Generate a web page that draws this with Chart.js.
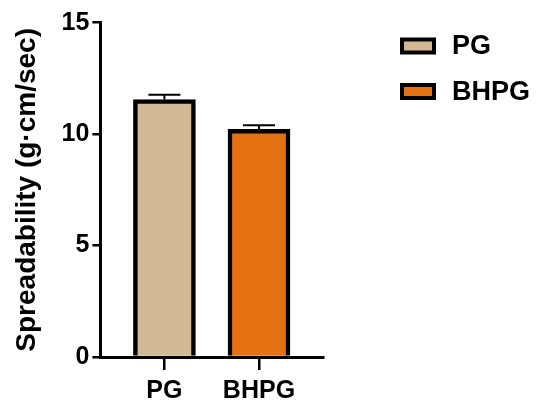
<!DOCTYPE html>
<html>
<head>
<meta charset="utf-8">
<script src="https://cdn.jsdelivr.net/npm/chart.js@4"></script>
<style>
  html, body { margin: 0; padding: 0; background: #fff; }
  #wrap { width: 537px; height: 402px; }
</style>
</head>
<body>
<div id="wrap"><canvas id="spreadChart"></canvas></div>
<script>
// Data
const categories = ['PG', 'BHPG'];
const spreadability = [11.55, 10.22];
const spreadabilityErr = [0.22, 0.18];
const barColors = ['#d3b895', '#e57212'];
const yTicks = [0, 5, 10, 15];

const FONT = "'Liberation Sans', Arial, Helvetica, sans-serif";

// Upper error bars, GraphPad style
const errorBars = {
    id: 'errorBars',
    afterDatasetsDraw(chart) {
        const { ctx, scales } = chart;
        const meta = chart.getDatasetMeta(0);
        ctx.save();
        ctx.strokeStyle = '#000';
        ctx.lineWidth = 2;
        meta.data.forEach((bar, i) => {
            const yTop = scales.y.getPixelForValue(spreadability[i] + spreadabilityErr[i]);
            ctx.beginPath();
            ctx.moveTo(bar.x, bar.y);
            ctx.lineTo(bar.x, yTop);
            ctx.moveTo(bar.x - 16, yTop);
            ctx.lineTo(bar.x + 16, yTop);
            ctx.stroke();
        });
        ctx.restore();
    }
};

// Legend on the right, one entry per category
const sideLegend = {
    id: 'sideLegend',
    afterDraw(chart) {
        const { ctx, chartArea } = chart;
        const x0 = chartArea.right + 77;
        ctx.save();
        ctx.font = "bold 27px " + FONT;
        ctx.textBaseline = 'middle';
        ctx.textAlign = 'left';
        categories.forEach((name, i) => {
            const cy = 46 + i * 45.5;
            ctx.fillStyle = barColors[i];
            ctx.fillRect(x0 + 2, cy - 6.5, 32, 13);
            ctx.strokeStyle = '#000';
            ctx.lineWidth = 4;
            ctx.strokeRect(x0 + 2, cy - 6.5, 32, 13);
            ctx.fillStyle = '#000';
            ctx.fillText(name, x0 + 52, cy + 1);
        });
        ctx.restore();
    }
};

const ctx = document.getElementById('spreadChart').getContext('2d');
const chart = new Chart(ctx, {
    type: 'bar',
    data: {
        datasets: [{
            label: 'Spreadability',
            data: categories.map((c, i) => ({ x: i, y: spreadability[i] })),
            backgroundColor: barColors,
            borderColor: '#000',
            borderWidth: 4.5,
            borderSkipped: 'start',
            barThickness: 62
        }]
    },
    options: {
        responsive: true,
        maintainAspectRatio: false,
        animation: false,
        devicePixelRatio: 1,
        layout: {
            padding: { left: 10, top: 22.7, right: 214, bottom: -10 }
        },
        plugins: {
            legend: { display: false },
            tooltip: { enabled: false }
        },
        scales: {
            x: {
                type: 'linear',
                offset: false,
                bounds: 'ticks',
                min: -0.677,
                max: 1.677,
                z: 1,
                afterBuildTicks: (scale) => {
                    scale.ticks = categories.map((c, i) => ({ value: i }));
                },
                ticks: {
                    color: '#000',
                    font: { family: FONT, size: 25, weight: 'bold' },
                    padding: 6,
                    maxRotation: 0,
                    callback: (v) => categories[v]
                },
                grid: {
                    offset: false,
                    drawOnChartArea: false,
                    drawTicks: true,
                    tickLength: 13,
                    color: '#000',
                    lineWidth: 2.5
                },
                border: { color: '#000', width: 3 }
            },
            y: {
                min: 0,
                max: 15,
                afterBuildTicks: (scale) => {
                    scale.ticks = yTicks.map(v => ({ value: v }));
                },
                ticks: {
                    color: '#000',
                    font: { family: FONT, size: 25, weight: 'bold' },
                    padding: 3
                },
                grid: {
                    drawOnChartArea: false,
                    drawTicks: true,
                    tickLength: 8,
                    color: '#000',
                    lineWidth: 2.5
                },
                border: { color: '#000', width: 3 },
                title: {
                    display: true,
                    text: 'Spreadability (g·cm/sec)',
                    color: '#000',
                    font: { family: FONT, size: 28, weight: 'bold' },
                    padding: { top: 0, bottom: 15 }
                }
            }
        }
    },
    plugins: [errorBars, sideLegend]
});
</script>
</body>
</html>
